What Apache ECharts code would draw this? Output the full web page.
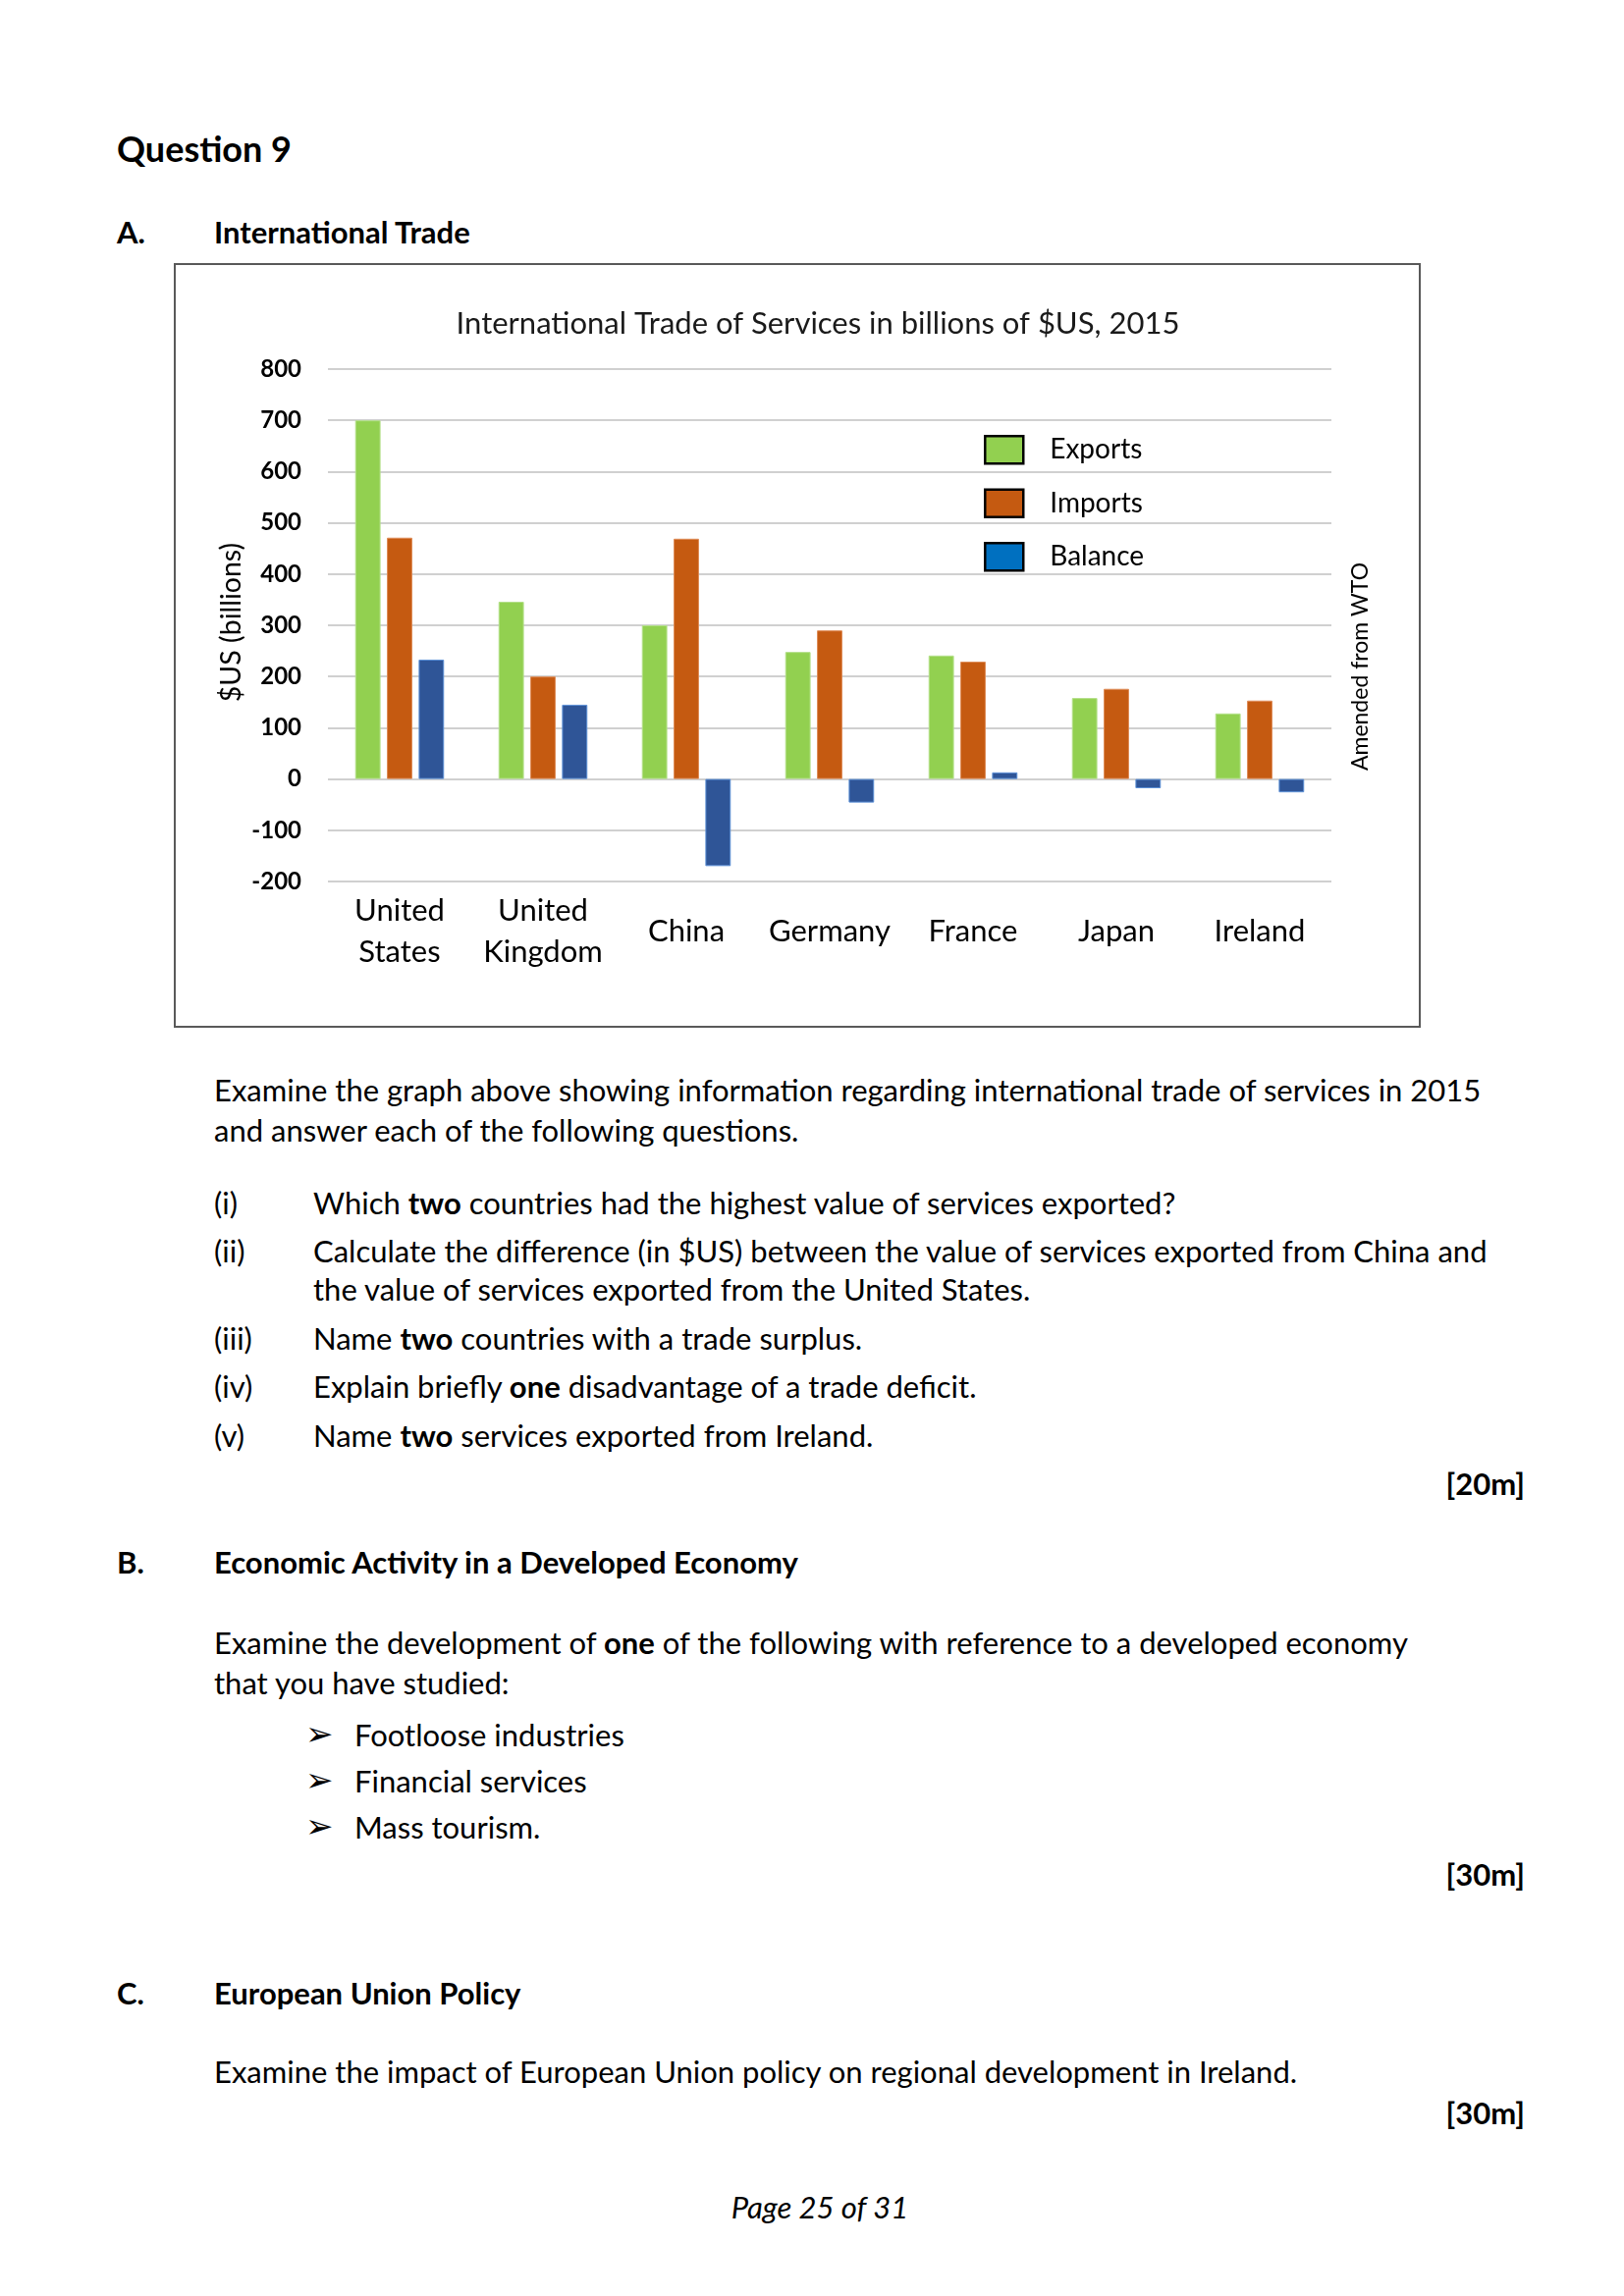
<!DOCTYPE html>
<html>
<head>
<meta charset="utf-8">
<script src="https://cdn.jsdelivr.net/npm/echarts@6/dist/echarts.min.js"></script>
<style>
  html, body { margin: 0; padding: 0; background: #fff; }
  body { width: 1654px; height: 2339px; position: relative; font-family: Lato, "Noto Sans", sans-serif; color: #000; }
  .ln { position: absolute; height: 40px; line-height: 40px; font-size: 31px; white-space: nowrap; }
  .b { font-weight: bold; }
  .mark { position: absolute; right: 101px; height: 40px; line-height: 40px; font-size: 31px; font-weight: bold; }
  .arr { font-family: 'DejaVu Sans'; font-size: 34px; }
  #box { position: absolute; left: 177px; top: 268px; width: 1270px; height: 779px; box-sizing: border-box; border: 2px solid #595959; pointer-events: none; }
  #chart { position: absolute; left: 177px; top: 268px; width: 1270px; height: 779px; }
</style>
</head>
<body>
<div class="ln b" style="left:119px; top:129px; height:44px; line-height:44px; font-size:36px;">Question 9</div>
<div class="ln b" style="left:119px; top:216px;">A.</div>
<div class="ln b" style="left:218px; top:216px;">International Trade</div>

<div id="chart"></div>
<div id="box"></div>

<div class="ln" style="left:218px; top:1090px;">Examine the graph above showing information regarding international trade of services in 2015</div>
<div class="ln" style="left:218px; top:1131px;">and answer each of the following questions.</div>

<div class="ln" style="left:218px; top:1205px;">(i)</div>
<div class="ln" style="left:319px; top:1205px;">Which <b>two</b> countries had the highest value of services exported?</div>
<div class="ln" style="left:218px; top:1254px;">(ii)</div>
<div class="ln" style="left:319px; top:1254px;">Calculate the difference (in $US) between the value of services exported from China and</div>
<div class="ln" style="left:319px; top:1293px;">the value of services exported from the United States.</div>
<div class="ln" style="left:218px; top:1343px;">(iii)</div>
<div class="ln" style="left:319px; top:1343px;">Name <b>two</b> countries with a trade surplus.</div>
<div class="ln" style="left:218px; top:1392px;">(iv)</div>
<div class="ln" style="left:319px; top:1392px;">Explain briefly <b>one</b> disadvantage of a trade deficit.</div>
<div class="ln" style="left:218px; top:1442px;">(v)</div>
<div class="ln" style="left:319px; top:1442px;">Name <b>two</b> services exported from Ireland.</div>
<div class="mark" style="top:1491px;">[20m]</div>

<div class="ln b" style="left:119px; top:1571px;">B.</div>
<div class="ln b" style="left:218px; top:1571px;">Economic Activity in a Developed Economy</div>
<div class="ln" style="left:218px; top:1653px;">Examine the development of <b>one</b> of the following with reference to a developed economy</div>
<div class="ln" style="left:218px; top:1694px;">that you have studied:</div>
<div class="ln arr" style="left:311px; top:1746px;">&#10146;</div>
<div class="ln" style="left:361px; top:1747px;">Footloose industries</div>
<div class="ln arr" style="left:311px; top:1793px;">&#10146;</div>
<div class="ln" style="left:361px; top:1794px;">Financial services</div>
<div class="ln arr" style="left:311px; top:1840px;">&#10146;</div>
<div class="ln" style="left:361px; top:1841px;">Mass tourism.</div>
<div class="mark" style="top:1889px;">[30m]</div>

<div class="ln b" style="left:119px; top:2010px;">C.</div>
<div class="ln b" style="left:218px; top:2010px;">European Union Policy</div>
<div class="ln" style="left:218px; top:2090px;">Examine the impact of European Union policy on regional development in Ireland.</div>
<div class="mark" style="top:2132px;">[30m]</div>

<div class="ln" style="left:0; width:1670px; text-align:center; top:2228px; font-style:italic;">Page 25 of 31</div>

<script>
// values, billions of $US
var countries = ['United\nStates', 'United\nKingdom', 'China', 'Germany', 'France', 'Japan', 'Ireland'];
var exportsData = [700, 346, 300, 248, 241, 158, 128];
var importsData = [471, 200, 469, 290, 229, 176, 153];
var balanceData = [233, 145, -170, -46, 13, -18, -26];
var yMin = -200, yMax = 800, yStep = 100;

var chart = echarts.init(document.getElementById('chart'));

var option = {
    animation: false,
    textStyle: { fontFamily: 'Lato' },
    grid: { left: 157, right: 91, top: 108, bottom: 149 },
    legend: {
        orient: 'vertical',
        left: 820,
        top: 170,
        itemWidth: 39,
        itemHeight: 28,
        itemGap: 24,
        icon: 'rect',
        selectedMode: false,
        textStyle: { fontSize: 28, color: '#000', padding: [0, 0, 0, 22] },
        data: [
            { name: 'Exports', itemStyle: { color: '#92D050', borderColor: '#000', borderWidth: 2.5 } },
            { name: 'Imports', itemStyle: { color: '#C55A11', borderColor: '#000', borderWidth: 2.5 } },
            { name: 'Balance', itemStyle: { color: '#0070C0', borderColor: '#000', borderWidth: 2.5 } }
        ]
    },
    xAxis: {
        type: 'category',
        data: countries,
        axisLine: { show: false, onZero: false },
        axisTick: { show: false },
        axisLabel: {
            fontSize: 31,
            color: '#000',
            lineHeight: 42,
            verticalAlign: 'middle',
            margin: 51,
            interval: 0
        }
    },
    yAxis: {
        type: 'value',
        min: yMin,
        max: yMax,
        interval: yStep,
        axisLine: { show: false },
        axisTick: { show: false },
        axisLabel: { fontSize: 24, fontWeight: 'bold', color: '#000', margin: 27 },
        splitLine: { lineStyle: { color: '#d0d0d0', width: 2 } }
    },
    graphic: [
        {
            type: 'text', x: 656, y: 62,
            style: { text: 'International Trade of Services in billions of $US, 2015', font: '31px Lato', fill: '#1a1a1a', align: 'center', verticalAlign: 'middle' }
        },
        {
            type: 'text', x: 59, y: 366, rotation: Math.PI / 2,
            style: { text: '$US (billions)', font: '28.5px Lato', fill: '#000', align: 'center', verticalAlign: 'middle' }
        },
        {
            type: 'text', x: 1209, y: 411, rotation: Math.PI / 2,
            style: { text: 'Amended from WTO', font: '23px Lato', fill: '#000', align: 'center', verticalAlign: 'middle' }
        }
    ],
    series: [
        {
            name: 'Exports', type: 'bar', data: exportsData,
            barCategoryGap: '38%', barGap: '25%',
            itemStyle: { color: '#92D050', borderColor: '#b4e08a', borderWidth: 1 }
        },
        {
            name: 'Imports', type: 'bar', data: importsData,
            itemStyle: { color: '#C55A11', borderColor: '#de8a55', borderWidth: 1 }
        },
        {
            name: 'Balance', type: 'bar', data: balanceData,
            itemStyle: { color: '#2F5597', borderColor: '#5b8fd6', borderWidth: 1 }
        }
    ]
};
chart.setOption(option);
</script>
</body>
</html>
